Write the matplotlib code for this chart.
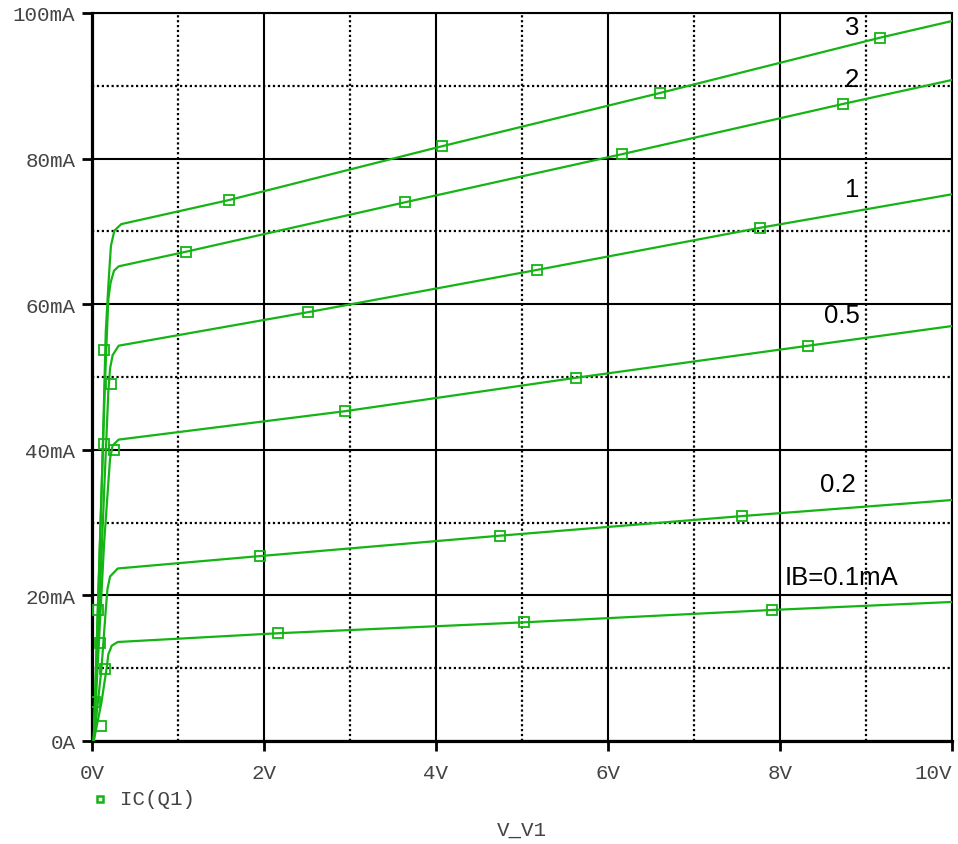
import numpy as np
import matplotlib
matplotlib.use("Agg")
import matplotlib.pyplot as plt
from matplotlib.ticker import MultipleLocator, FixedFormatter, FixedLocator

# curves: base current -> (V_V1 [V], IC(Q1) [mA])
curve_labels = ["3", "2", "1", "0.5", "0.2", "IB=0.1mA"]

v_3 = [0.02, 0.12, 0.16, 0.19, 0.205, 0.22, 0.26, 0.34, 1.59, 4.07, 6.60, 9.16, 10.0]
i_3 = [0.0, 37.8, 56.2, 62.5, 65.3, 68.0, 70.1, 71.0, 74.3, 81.7, 89.0, 96.6, 98.9]

v_2 = [0.02, 0.15, 0.17, 0.19, 0.217, 0.256, 0.31, 1.09, 3.64, 6.16, 8.73, 10.0]
i_2 = [0.0, 48.8, 55.0, 60.7, 63.0, 64.6, 65.2, 67.2, 74.0, 80.6, 87.5, 90.8]

v_1 = [0.02, 0.17, 0.19, 0.21, 0.24, 0.31, 2.51, 5.17, 7.77, 10.0]
i_1 = [0.0, 42.4, 48.0, 51.2, 53.0, 54.3, 58.9, 64.7, 70.5, 75.1]

v_05 = [0.02, 0.14, 0.19, 0.21, 0.24, 0.31, 2.94, 5.63, 8.33, 10.0]
i_05 = [0.0, 27.0, 35.5, 38.8, 40.6, 41.4, 45.3, 49.9, 54.3, 57.0]

v_02 = [0.02, 0.11, 0.16, 0.18, 0.21, 0.30, 1.95, 4.74, 7.56, 10.0]
i_02 = [0.0, 9.9, 18.0, 20.9, 22.6, 23.7, 25.4, 28.2, 30.9, 33.1]

v_01 = [0.02, 0.11, 0.17, 0.19, 0.23, 0.30, 2.16, 5.02, 7.91, 10.0]
i_01 = [0.0, 5.3, 10.0, 11.9, 13.1, 13.6, 14.8, 16.3, 18.0, 19.1]

# square markers drawn along the traces
mv_3 = [0.07, 0.14, 1.59, 4.07, 6.60, 9.16]
mi_3 = [18.0, 53.7, 74.3, 81.7, 89.0, 96.6]
mv_2 = [0.14, 1.09, 3.64, 6.16, 8.73]
mi_2 = [40.8, 67.2, 74.0, 80.6, 87.5]
mv_1 = [0.09, 0.22, 2.51, 5.17, 7.77]
mi_1 = [13.5, 49.0, 58.9, 64.7, 70.5]
mv_05 = [0.03, 0.26, 2.94, 5.63, 8.33]
mi_05 = [5.3, 40.0, 45.3, 49.9, 54.3]
mv_02 = [0.15, 1.95, 4.74, 7.56]
mi_02 = [9.9, 25.4, 28.2, 30.9]
mv_01 = [0.11, 2.16, 5.02, 7.91]
mi_01 = [2.1, 14.8, 16.3, 18.0]

x_ticks = [0, 2, 4, 6, 8, 10]
x_tick_labels = ["0V", "2V", "4V", "6V", "8V", "10V"]
y_ticks = [0, 20, 40, 60, 80, 100]
y_tick_labels = ["0A", "20mA", "40mA", "60mA", "80mA", "100mA"]

curves = [(v_3, i_3, mv_3, mi_3), (v_2, i_2, mv_2, mi_2), (v_1, i_1, mv_1, mi_1),
          (v_05, i_05, mv_05, mi_05), (v_02, i_02, mv_02, mi_02), (v_01, i_01, mv_01, mi_01)]
label_pos = [(8.84, 98.1), (8.84, 90.9), (8.84, 75.8), (8.72, 58.5), (8.67, 35.3), (8.72, 22.5)]

green = "#14b414"
mono = "Liberation Mono"
grey = "#444444"

fig = plt.figure(figsize=(9.58, 8.45), dpi=100)
ax = fig.add_axes([92 / 958, 1 - 742 / 845, 860 / 958, 728 / 845])

for v, i, mv, mi in curves:
    ax.plot(v, i, color=green, lw=1.6, zorder=3)
    ax.plot(mv, mi, ls="none", marker="s", ms=6.5, mfc="none", mec=green, mew=1.3, zorder=4)

for txt, (x, y) in zip(curve_labels, label_pos):
    ax.text(x, y, txt, ha="center", va="center", fontsize=18.5, family="Liberation Sans", color="black", zorder=5)

ax.set_xlim(0, 10)
ax.set_ylim(0, 100)
ax.xaxis.set_major_locator(FixedLocator(x_ticks))
ax.xaxis.set_major_formatter(FixedFormatter(x_tick_labels))
ax.yaxis.set_major_locator(FixedLocator(y_ticks))
ax.yaxis.set_major_formatter(FixedFormatter(y_tick_labels))
ax.xaxis.set_minor_locator(MultipleLocator(1))
ax.yaxis.set_minor_locator(MultipleLocator(10))

ax.set_axisbelow(True)
ax.grid(which="major", color="black", lw=1.5, ls="-")
ax.grid(which="minor", color="black", lw=1.6, ls=(0, (1, 1.2)))

ax.tick_params(which="major", direction="out", length=7, width=2, color="black",
               labelsize=15, labelcolor=grey)
ax.tick_params(axis="y", which="major", pad=5)
ax.tick_params(axis="x", which="major", pad=9)
ax.tick_params(which="minor", length=0)
for lab in ax.get_xticklabels() + ax.get_yticklabels():
    lab.set_family(mono)
ax.get_xticklabels()[-1].set_horizontalalignment("right")

for side in ["left", "bottom"]:
    ax.spines[side].set_linewidth(2.3)
for side in ["top", "right"]:
    ax.spines[side].set_linewidth(1.5)

# legend and axis title, PSpice style
ax.plot([100 / 958], [1 - 800 / 845], transform=fig.transFigure, clip_on=False,
        marker="s", ms=5, mfc="none", mec=green, mew=1.8)
fig.text(120 / 958, 1 - 800 / 845, "IC(Q1)", family=mono, fontsize=15, color=grey, va="center", ha="left")
fig.text(522 / 958, 1 - 830 / 845, "V_V1", family=mono, fontsize=15, color=grey, va="center", ha="center")

fig.savefig("out.png", dpi=100)
